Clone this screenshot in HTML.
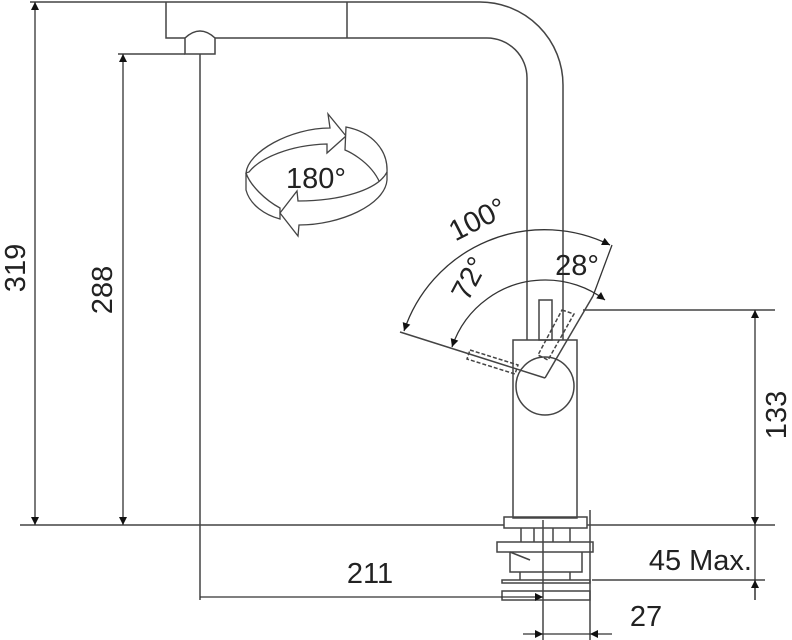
<!DOCTYPE html>
<html><head><meta charset="utf-8"><style>
html,body{margin:0;padding:0;background:#fff;}
svg{display:block;}
text{font-family:"Liberation Sans",Arial,sans-serif;fill:#222;}
</style></head><body>
<svg width="792" height="640" viewBox="0 0 792 640" xmlns="http://www.w3.org/2000/svg">
<defs>
<marker id="a" viewBox="0 0 10 10" refX="10" refY="5" markerWidth="14" markerHeight="8" orient="auto-start-reverse" markerUnits="userSpaceOnUse"><path d="M0,0L10,5L0,10z" fill="#111"/></marker>
</defs>
<g fill="none" stroke="#444" stroke-width="1.5">
<line x1="30" y1="2" x2="166" y2="2"/>
<line x1="118" y1="54" x2="185" y2="54"/>
<line x1="20" y1="525" x2="504" y2="525"/>
<line x1="587" y1="525" x2="775" y2="525"/>
<line x1="583" y1="310" x2="775" y2="310"/>
<line x1="592" y1="580" x2="765" y2="580"/>
<path d="M166,2 L480,2 A83,83 0 0 1 563,85 L563,340"/>
<path d="M166,2 L166,38 L185,38"/>
<path d="M215,38 L487,38 A40,40 0 0 1 527,78 L527,340"/>
<line x1="347" y1="2" x2="347" y2="38"/>
<path d="M185,54 L185,38 Q200,24 215,38 L215,54 Z"/>
<line x1="200" y1="54" x2="200" y2="600"/>
<rect x="513" y="340" width="64" height="178"/>
<circle cx="545" cy="386" r="29"/>
<rect x="539" y="300" width="13" height="40"/>
<g stroke-dasharray="4,2">
<path d="M470,350 L518,365 L515,374 L467,359 Z"/>
<path d="M562,310 L574,314 L548,360 L538,355 Z"/>
</g>
<line x1="400" y1="332" x2="545" y2="378"/>
<line x1="545" y1="378" x2="593" y2="296"/>
<rect x="504" y="517" width="83" height="11"/>
<line x1="521" y1="528" x2="521" y2="542"/><line x1="570" y1="528" x2="570" y2="542"/>
<line x1="534" y1="528" x2="534" y2="542"/><line x1="553" y1="528" x2="553" y2="542"/>
<rect x="497" y="542" width="96" height="10"/>
<path d="M510,552 L510,572 L582,572 L582,552"/>
<path d="M510,552 L530,560"/>
<line x1="520" y1="572" x2="520" y2="580"/><line x1="570" y1="572" x2="570" y2="580"/>
<rect x="502" y="580" width="88" height="3"/>
<rect x="502" y="591" width="88" height="9"/>
<line x1="543" y1="520" x2="543" y2="640"/>
<line x1="590" y1="510" x2="590" y2="640"/>
</g>
<g stroke="#333" stroke-width="1.3" fill="none">
<line x1="35" y1="2" x2="35" y2="525" marker-start="url(#a)" marker-end="url(#a)"/>
<line x1="123" y1="54" x2="123" y2="525" marker-start="url(#a)" marker-end="url(#a)"/>
<line x1="755" y1="310" x2="755" y2="525" marker-start="url(#a)" marker-end="url(#a)"/>
<line x1="755" y1="525" x2="755" y2="600"/>
<line x1="755" y1="600" x2="755" y2="580" marker-end="url(#a)"/>
<line x1="200" y1="597" x2="543" y2="597" marker-end="url(#a)"/>
<line x1="523" y1="634" x2="543" y2="634" marker-end="url(#a)"/>
<line x1="543" y1="634" x2="590" y2="634"/>
<line x1="612" y1="634" x2="590" y2="634" marker-end="url(#a)"/>
<path d="M404,331 A148,148 0 0 1 610,245" marker-start="url(#a)" marker-end="url(#a)"/>
<path d="M452,347 A98,98 0 0 1 545,280" marker-start="url(#a)"/>
<path d="M545,280 A98,98 0 0 1 605,300" marker-end="url(#a)"/>
<line x1="593" y1="296" x2="612" y2="245"/>
</g>
<g fill="#fff" stroke="#444" stroke-width="1.3">
<path d="M246,173 C248,152 290,128 330,128 L328,114 L346,136 L327,153 L327,144 C290,145 260,158 249,172 Z"/>
<path d="M346,127 C372,132 388,150 387,172 C386,181 380,183 380,183 C370,160 345,150 345,150 Z"/>
<path d="M246,173 L246,190 C250,205 265,215 280,219 L280,208 C265,200 250,185 246,173 Z"/>
<path d="M387,172 L387,180 C385,205 340,225 299,225 L298,236 L280,213 L297,191 L298,201 C340,201 378,190 387,172 Z"/>
</g>
<g font-size="29">
<text x="0" y="0" transform="translate(25,268) rotate(-90)" text-anchor="middle">319</text>
<text x="0" y="0" transform="translate(112,290) rotate(-90)" text-anchor="middle">288</text>
<text x="0" y="0" transform="translate(786,415) rotate(-90)" text-anchor="middle">133</text>
<text x="316" y="188" text-anchor="middle">180°</text>
<text x="370" y="583" text-anchor="middle">211</text>
<text x="752" y="570" text-anchor="end">45 Max.</text>
<text x="646" y="626" text-anchor="middle">27</text>
<text x="0" y="0" transform="translate(482,228) rotate(-27)" text-anchor="middle">100°</text>
<text x="0" y="0" transform="translate(478,283) rotate(-62)" text-anchor="middle">72°</text>
<text x="577" y="275" text-anchor="middle">28°</text>
</g>
</svg>
</body></html>
